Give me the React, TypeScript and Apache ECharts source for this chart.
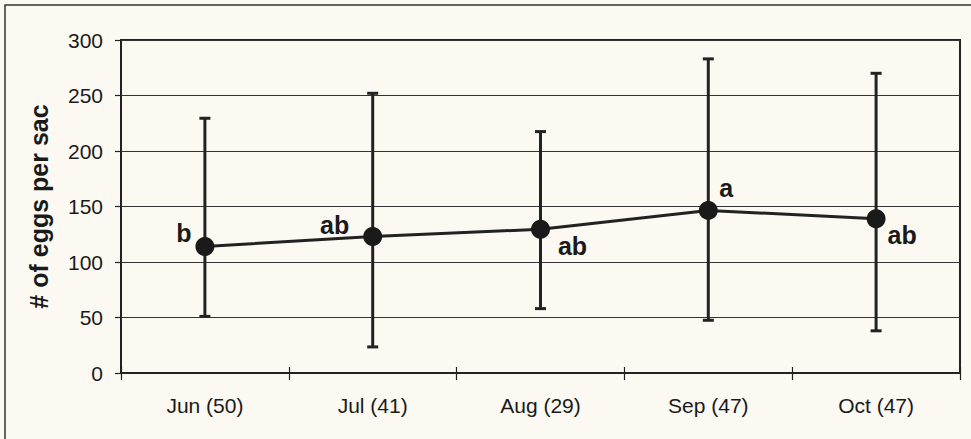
import React, { useEffect, useRef } from "react";
import * as echarts from "echarts";

const categories = ["Jun (50)", "Jul (41)", "Aug (29)", "Sep (47)", "Oct (47)"];
const means = [114, 123, 129.5, 146.5, 139];
const lows = [51, 23.5, 58, 47.5, 38];
const highs = [229.5, 252, 217.5, 283, 270];
const letters = ["b", "ab", "ab", "a", "ab"];
const yTicks = [0, 50, 100, 150, 200, 250, 300];

const letterOffsets: [number, number][] = [
  [-21, -13],
  [-38, -11],
  [32, 17],
  [18, -22],
  [26, 16],
];

const INK = "#222222";
const BG = "#fbf9f1";

export default function App() {
  const ref = useRef<HTMLDivElement>(null);
  useEffect(() => {
    if (!ref.current) return;
    const chart = echarts.init(ref.current, undefined, { renderer: "svg" });
    const font = "'Liberation Sans', Arial, sans-serif";
    chart.setOption({
      animation: false,
      backgroundColor: BG,
      graphic: [
        {
          type: "rect",
          shape: { x: 5, y: 5, width: 980, height: 450 },
          style: { fill: "none", stroke: "#333", lineWidth: 1.5 },
          z: 100,
        },
      ],
      grid: {
        left: 121,
        right: 11,
        top: 40,
        bottom: 66,
        show: true,
        borderColor: INK,
        borderWidth: 2,
        backgroundColor: "transparent",
      },
      xAxis: [
        {
          type: "category",
          data: categories,
          position: "bottom",
          boundaryGap: true,
          axisLine: { lineStyle: { color: INK, width: 1.5 } },
          axisTick: { show: true, inside: false, length: 7, lineStyle: { color: INK, width: 1.2 } },
          axisLabel: { color: "#1a1a1a", fontSize: 21, fontFamily: font, margin: 22 },
          splitLine: { show: false },
        },
        {
          type: "category",
          data: categories,
          position: "bottom",
          boundaryGap: true,
          axisLine: { show: false },
          axisTick: { show: true, inside: true, length: 6, lineStyle: { color: INK, width: 1.2 } },
          axisLabel: { show: false },
          splitLine: { show: false },
        },
      ],
      yAxis: {
        type: "value",
        min: yTicks[0],
        max: yTicks[yTicks.length - 1],
        interval: 50,
        name: "# of eggs per sac",
        nameLocation: "middle",
        nameGap: 70,
        nameRotate: 90,
        nameTextStyle: { fontSize: 25, fontWeight: "bold", color: "#1a1a1a", fontFamily: font },
        axisLine: { show: true, lineStyle: { color: INK, width: 1.5 } },
        axisTick: { show: true, inside: false, length: 6, lineStyle: { color: INK, width: 1.2 } },
        axisLabel: { color: "#1a1a1a", fontSize: 21, fontFamily: font, margin: 18 },
        splitLine: { show: true, lineStyle: { color: "#333", width: 1.2 } },
      },
      series: [
        {
          type: "custom",
          z: 2,
          data: categories.map((_, i) => [i, lows[i], highs[i]]),
          renderItem: (params: any, api: any) => {
            const lo = api.coord([api.value(0), api.value(1)]);
            const hi = api.coord([api.value(0), api.value(2)]);
            const hw = 5.5;
            const st = { stroke: INK, lineWidth: 3 };
            return {
              type: "group",
              children: [
                { type: "line", shape: { x1: lo[0], y1: lo[1], x2: hi[0], y2: hi[1] }, style: st },
                { type: "line", shape: { x1: lo[0] - hw, y1: lo[1], x2: lo[0] + hw, y2: lo[1] }, style: st },
                { type: "line", shape: { x1: hi[0] - hw, y1: hi[1], x2: hi[0] + hw, y2: hi[1] }, style: st },
              ],
            };
          },
        },
        {
          type: "line",
          z: 3,
          symbol: "circle",
          symbolSize: 19,
          itemStyle: { color: "#1a1a1a" },
          lineStyle: { color: INK, width: 3 },
          data: means.map((v, i) => ({
            value: v,
            label: {
              show: true,
              formatter: letters[i],
              position: "inside",
              offset: letterOffsets[i],
              fontSize: 25,
              fontWeight: "bold",
              color: "#1a1a1a",
              fontFamily: font,
            },
          })),
        },
      ],
    });
    return () => chart.dispose();
  }, []);
  return (
    <div
      ref={ref}
      style={{ position: "fixed", left: 0, top: 0, width: 971, height: 439, background: BG }}
    />
  );
}
